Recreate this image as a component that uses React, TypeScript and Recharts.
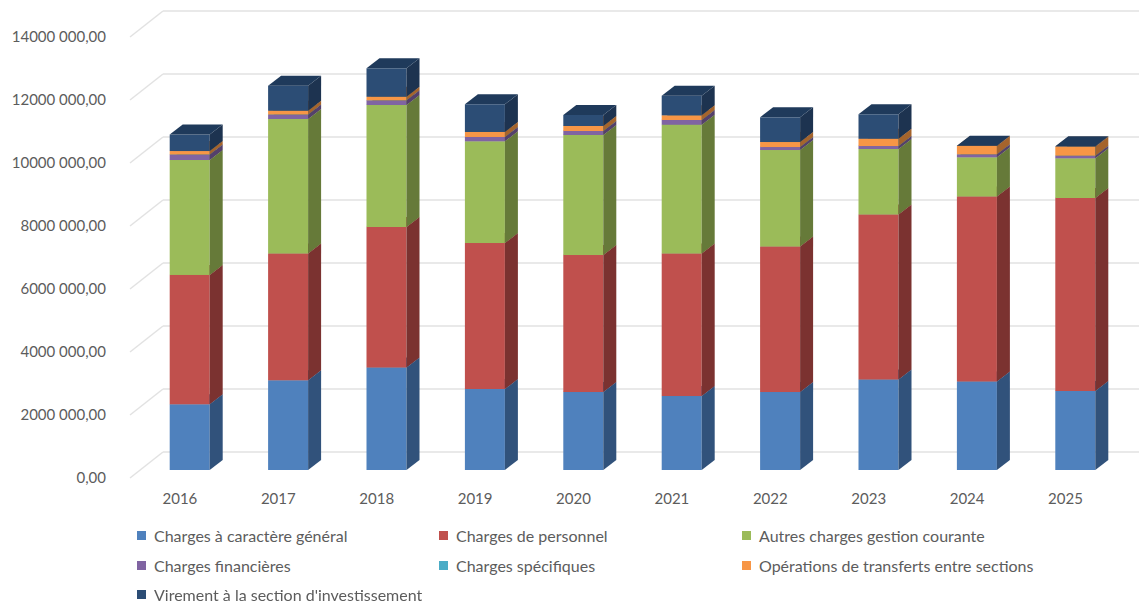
import { BarChart, Bar, XAxis, YAxis, CartesianGrid, Legend } from 'recharts'

const YEARS = ['2016', '2017', '2018', '2019', '2020', '2021', '2022', '2023', '2024', '2025']
const Y_TICKS = [0, 2000000, 4000000, 6000000, 8000000, 10000000, 12000000, 14000000]
const Y_LABELS = ['0,00', '2000 000,00', '4000 000,00', '6000 000,00', '8000 000,00', '10000 000,00', '12000 000,00', '14000 000,00']

const GENERAL = [2086000, 2848000, 3254000, 2571000, 2476000, 2349000, 2476000, 2873000, 2810000, 2508000]
const PERSONNEL = [4105000, 4025000, 4460000, 4635000, 4349000, 4524000, 4619000, 5238000, 5873000, 6127000]
const AUTRES = [3650000, 4270000, 3873000, 3229000, 3810000, 4089000, 3063000, 2079000, 1244000, 1260000]
const FINANCIERES = [175000, 143000, 149000, 137000, 127000, 149000, 95000, 95000, 95000, 83000]
const SPECIFIQUES = [0, 0, 0, 0, 0, 0, 0, 0, 0, 0]
const TRANSFERTS = [110000, 120000, 114000, 159000, 159000, 149000, 159000, 232000, 264000, 286000]
const VIREMENT = [524000, 794000, 902000, 879000, 349000, 622000, 784000, 775000, 10000, 10000]

const SERIES = [
  { key: 'general', name: 'Charges à caractère général', values: GENERAL, front: '#4f81bd', side: '#31527b', top: '#3d6594' },
  { key: 'personnel', name: 'Charges de personnel', values: PERSONNEL, front: '#c0504d', side: '#7b3230', top: '#953e3c' },
  { key: 'autres', name: 'Autres charges gestion courante', values: AUTRES, front: '#9bbb59', side: '#667a39', top: '#799147' },
  { key: 'financieres', name: 'Charges financières', values: FINANCIERES, front: '#8064a2', side: '#54406b', top: '#644e7e' },
  { key: 'specifiques', name: 'Charges spécifiques', values: SPECIFIQUES, front: '#4bacc6', side: '#2f7083', top: '#3a869a' },
  { key: 'transferts', name: 'Opérations de transferts entre sections', values: TRANSFERTS, front: '#f79646', side: '#a5642c', top: '#c07536' },
  { key: 'virement', name: "Virement à la section d'investissement", values: VIREMENT, front: '#2c4d75', side: '#1d3350', top: '#1f3a5b' },
]

const rows = YEARS.map((year, i) => {
  const row: Record<string, string | number> = { year }
  SERIES.forEach((s) => {
    row[s.key] = s.values[i]
  })
  return row
})

const FONT = 'Lato, sans-serif'
const TEXT = '#5c5c5c'
const GRID = '#e2e2e2'

const WIDTH = 1139
const HEIGHT = 602
const LEFT = 140.7
const DEPTH_X = 13
const DEPTH_Y = 10

// fake 3d: front face, side face, top face from the bar rectangle
function makePrism(side: string, top: string) {
  return function Prism(props: any) {
    const { x, y, width: w, height: h, fill } = props
    const sidePts = `${x + w},${y} ${x + w + DEPTH_X},${y - DEPTH_Y} ${x + w + DEPTH_X},${y + h - DEPTH_Y} ${x + w},${y + h}`
    const topPts = `${x},${y} ${x + DEPTH_X},${y - DEPTH_Y} ${x + w + DEPTH_X},${y - DEPTH_Y} ${x + w},${y}`
    return (
      <g>
        <rect x={x} y={y} width={w} height={h} fill={fill} />
        <polygon points={sidePts} fill={side} />
        <polygon points={topPts} fill={top} />
      </g>
    )
  }
}

// wall line plus the slanted piece on the side wall
function gridLine(props: any) {
  const { x1, y1 } = props
  return (
    <g key={props.key ?? y1}>
      <line x1={x1 - 10.7} y1={y1 + 8} x2={x1 + 22.3} y2={y1 - 18} stroke={GRID} strokeWidth={1.5} />
      <line x1={x1 + 22.3} y1={y1 - 18} x2={WIDTH} y2={y1 - 18} stroke={GRID} strokeWidth={1.5} />
    </g>
  )
}

function YTick(props: any) {
  const { y, payload } = props
  const label = Y_LABELS[Y_TICKS.indexOf(payload.value)]
  return (
    <text x={106} y={y + 8} dy={5} textAnchor="end" fontFamily={FONT} fontSize={15} fill={TEXT}>
      {label}
    </text>
  )
}

function XTick(props: any) {
  const { x, payload } = props
  return (
    <text x={x - 10} y={504} textAnchor="middle" fontFamily={FONT} fontSize={15} fill={TEXT}>
      {payload.value}
    </text>
  )
}

const LEGEND_COLS = [135, 437, 740]
const LEGEND_ROWS = [0, 29.5, 59]

function LegendGrid(props: any) {
  const items = props.payload ?? []
  return (
    <div style={{ position: 'relative', width: WIDTH, height: 85 }}>
      {items.map((item: any, i: number) => (
        <div
          key={item.value}
          style={{
            position: 'absolute',
            left: LEGEND_COLS[i % 3],
            top: LEGEND_ROWS[Math.floor(i / 3)],
            height: 22,
            lineHeight: '22px',
            whiteSpace: 'nowrap',
            fontFamily: FONT,
            fontSize: 16,
            color: TEXT,
          }}
        >
          <span
            style={{
              position: 'absolute',
              left: 1.5,
              top: 6,
              width: 9,
              height: 9,
              background: item.color,
            }}
          />
          <span style={{ marginLeft: 19 }}>{item.value}</span>
        </div>
      ))}
    </div>
  )
}

export default function App() {
  return (
    <div style={{ position: 'absolute', left: 0, top: 0, width: WIDTH, height: HEIGHT, background: '#fff', filter: 'blur(0.35px)' }}>
      <BarChart
        width={WIDTH}
        height={HEIGHT}
        data={rows}
        margin={{ top: 29, right: 14.3, bottom: 7, left: 0 }}
      >
        <CartesianGrid vertical={false} horizontal={gridLine} />
        <XAxis dataKey="year" axisLine={false} tickLine={false} height={40} tick={XTick} interval={0} />
        <YAxis
          width={LEFT}
          domain={[0, 14000000]}
          ticks={Y_TICKS}
          axisLine={false}
          tickLine={false}
          tick={YTick}
          interval={0}
        />
        {SERIES.map((s) => (
          <Bar
            key={s.key}
            dataKey={s.key}
            name={s.name}
            stackId="total"
            fill={s.front}
            barSize={40}
            shape={makePrism(s.side, s.top)}
            isAnimationActive={false}
          />
        ))}
        <Legend
          content={LegendGrid}
          height={85}
          itemSorter={null}
          wrapperStyle={{ left: 0, top: 525, width: WIDTH }}
        />
      </BarChart>
    </div>
  )
}
